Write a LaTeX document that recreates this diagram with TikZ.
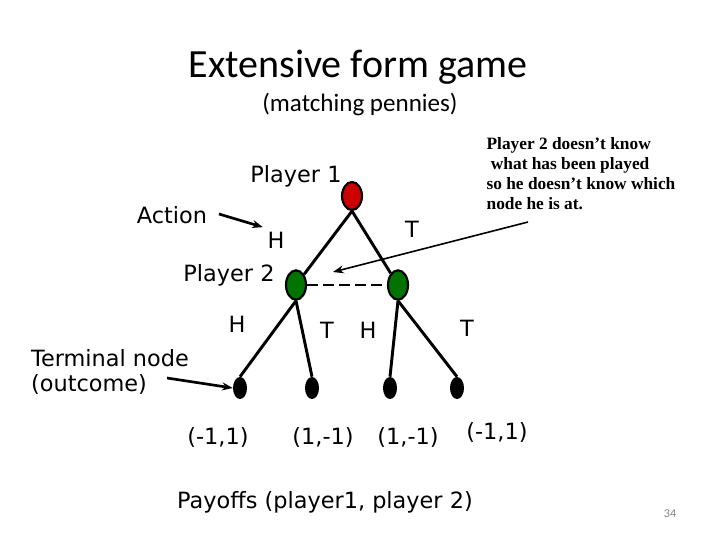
\documentclass[tikz,border=0pt]{standalone}
\usepackage{fontspec}
\setmainfont{Liberation Serif}
\newfontfamily\titlefont{Carlito}
\newfontfamily\handfont{DejaVu Sans}
\usetikzlibrary{arrows.meta,shapes.geometric,positioning}

\tikzset{
  decision/.style={ellipse, draw=black, line width=1.6pt, inner sep=0pt},
  leaf/.style={ellipse, fill=black, inner sep=0pt, minimum width=10.5pt, minimum height=16.5pt},
  branch/.style={line width=2.2pt},
  hand/.style={font=\handfont\fontsize{16.8}{19}\selectfont},
  pointer/.style={line width=2pt, -{Stealth[length=8pt,width=6pt]}}
}

\begin{document}
\begin{tikzpicture}[x=0.75pt,y=-0.75pt]
    \useasboundingbox (0,0) rectangle (720,540);

    % Title
    \node (title) at (358,67) {\titlefont\fontsize{30}{34}\selectfont Extensive form game};
    \node (subtitle) at (360,104) {\titlefont\fontsize{18.8}{22}\selectfont (matching pennies)};

    % Player 1 root
    \node[decision, fill=red!80!black, minimum width=15pt, minimum height=21pt] (root) at (352,196) {};
    \node[hand] (p1label) at (296,176) {Player 1};

    % Player 2 nodes
    \node[decision, fill=green!45!black, minimum width=15pt, minimum height=22pt] (p2l) at (296,285) {};
    \node[decision, fill=green!45!black, minimum width=15pt, minimum height=22pt] (p2r) at (398,285) {};
    \node[hand] (p2label) at (229,275) {Player 2};

    % Terminal nodes
    \node[leaf] (t1) at (240,388) {};
    \node[leaf] (t2) at (312,388) {};
    \node[leaf] (t3) at (390,388) {};
    \node[leaf] (t4) at (457,388) {};

    % Branches
    \draw[branch] (root.south) -- (p2l);
    \draw[branch] (root.south) -- (p2r);
    \draw[branch] (p2l.south) -- (t1.north);
    \draw[branch] (p2l.south) -- (t2.north);
    \draw[branch] (p2r.south) -- (t3.north);
    \draw[branch] (p2r.south) -- (t4.north);

    % Information set
    \draw[line width=2pt, dash pattern=on 8pt off 4pt] (p2l) -- (p2r);

    % Action labels
    \node[hand] (aH) at (276,240) {H};
    \node[hand] (aT) at (412,229) {T};
    \node[hand] (bH1) at (237,324) {H};
    \node[hand] (bT1) at (327,330) {T};
    \node[hand] (bH2) at (368,330) {H};
    \node[hand] (bT2) at (467,328) {T};

    % Annotations on the left
    \node[hand] (action) at (172,215) {Action};
    \coordinate (actfrom) at (219,214);
    \draw[pointer] (actfrom) -- (aH.north west);

    \node[hand, align=left] (terminal) at (110,372) {Terminal node\\(outcome)};
    \coordinate (termfrom) at (167,378);
    \draw[pointer] (termfrom) -- (t1.west);

    % Payoffs
    \node[hand] (pay1) at (218,437) {(-1,1)};
    \node[hand] (pay2) at (323,437) {(1,-1)};
    \node[hand] (pay3) at (408,437) {(1,-1)};
    \node[hand] (pay4) at (497,432) {(-1,1)};
    \node[hand] (payoffs) at (325,502) {Payoffs (player1, player 2)};

    % Note on the information set
    \node[align=left, font=\bfseries\fontsize{13}{15}\selectfont] (note) at (581,174)
        {Player 2 doesn't know\\ \ what has been played\\so he doesn't know which\\node he is at.};
    \coordinate (notefrom) at (528,222);
    \coordinate (noteto) at (333,272);
    \draw[line width=1.2pt, -{Stealth[length=8pt,width=6pt]}] (notefrom) -- (noteto);

    % Slide number
    \node[gray, font=\titlefont\fontsize{9}{11}\selectfont] (pagenum) at (670,514) {34};
\end{tikzpicture}
\end{document}
